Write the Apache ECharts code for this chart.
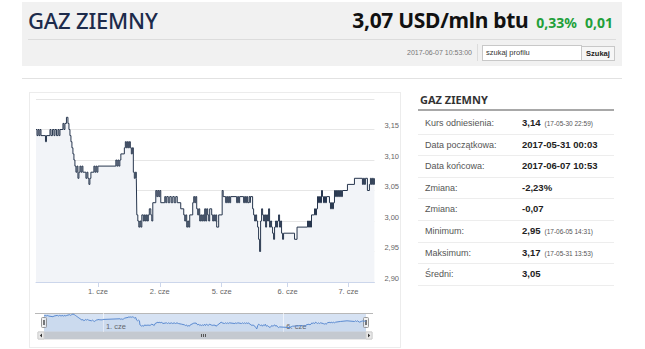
<!DOCTYPE html>
<html>
<head>
<meta charset="utf-8">
<script src="https://cdn.jsdelivr.net/npm/echarts@6/dist/echarts.min.js"></script>
<style>
  html, body { margin: 0; padding: 0; }
  body { width: 645px; height: 349px; background: #fff; position: relative; overflow: hidden;
         font-family: "Liberation Sans", Arial, sans-serif; }
  .abs { position: absolute; }
  .band { left: 22px; top: 2px; width: 600px; height: 64px; background: #f1f1f1; }
  .title { left: 28px; top: 5px; font-family: "Noto Sans", sans-serif; font-weight: 500; font-size: 22px;
           color: #1d2b4b; line-height: 30px; letter-spacing: -0.2px; }
  .quote { right: 32px; top: 5px; font-family: "Noto Sans", sans-serif; line-height: 30px; white-space: nowrap; }
  .quote .px { font-weight: 700; font-size: 21px; color: #111; letter-spacing: -0.3px; }
  .quote .chg { font-weight: 700; font-size: 14px; color: #22a03a; margin-left: 8px; }
  .sep { left: 28px; top: 39px; width: 588px; height: 1px; background: #dcdcdc; }
  .stamp { right: 173px; top: 48px; font-size: 7px; color: #777; line-height: 10px; }
  .vdiv { left: 477px; top: 44px; width: 1px; height: 17px; background: #dcdcdc; }
  .search { left: 482px; top: 45px; width: 95px; height: 14px; background: #fff; border: 1px solid #c8c8c8;
            font-size: 7.5px; color: #333; line-height: 14px; padding-left: 3px; box-sizing: content-box; }
  .btn { left: 581px; top: 46px; width: 32px; height: 13px; background: #f6f6f6; border: 1px solid #c8c8c8;
         font-size: 7.5px; font-weight: 700; color: #222; line-height: 13px; text-align: center; }
  .rule { left: 22px; top: 78px; width: 600px; height: 1px; background: #e2e2e2; }
  .panel { left: 29px; top: 92px; width: 372px; height: 256px; border: 1px solid #ececec; box-sizing: border-box; }
  #chart { left: 30px; top: 92px; width: 372px; height: 256px; }
  .thead { left: 420px; top: 93px; font-family: "Noto Sans", sans-serif; font-weight: 700; font-size: 11px; color: #333; line-height: 14px; }
  .tline { left: 418px; top: 109px; width: 196px; height: 2px; background: #a8a8a8; }
  .lab { left: 425px; font-size: 9px; color: #555; line-height: 12px; }
  .val { left: 522px; font-size: 9.5px; font-weight: 700; color: #222; line-height: 12px; white-space: nowrap; }
  .val small { font-size: 6.5px; font-weight: 400; color: #555; margin-left: 4px; }
  .rsep { left: 418px; width: 196px; height: 1px; background: #ededed; }
</style>
</head>
<body>
  <div class="abs band"></div>
  <div class="abs title">GAZ ZIEMNY</div>
  <div class="abs quote"><span class="px">3,07 USD/mln btu</span><span class="chg">0,33%</span><span class="chg">0,01</span></div>
  <div class="abs sep"></div>
  <div class="abs stamp">2017-06-07 10:53:00</div>
  <div class="abs vdiv"></div>
  <div class="abs search">szukaj profilu</div>
  <div class="abs btn">Szukaj</div>
  <div class="abs rule"></div>

  <div class="abs panel"></div>
  <div class="abs" id="chart"></div>

  <div class="abs thead">GAZ ZIEMNY</div>
  <div class="abs tline"></div>
  <div id="stats"></div>

<script>
// Position of each quote on the gap-less (ordinal) session axis, and its price.
const idx = [
  0, 1, 2, 3, 4, 5, 9.5, 10.5, 14, 15, 16.5, 18, 19, 20.5, 22, 23, 24, 27, 28, 29,
  30.5, 32, 33, 34, 35, 36, 37, 38, 39, 40, 41, 42, 43, 44, 45, 46, 47, 50, 51, 52,
  53, 54, 55, 58, 59, 60, 61, 62, 80, 81, 82, 83, 84, 85, 88.5, 89.5, 90.5, 91.5, 92.5, 93.5,
  94.5, 95.5, 96.5, 97.5, 98.5, 99.5, 100.5, 101, 102, 103, 104, 105, 106, 107.5, 108.5, 109.5, 110.5, 111.5, 112.5, 113.5,
  115, 116, 117, 120, 121, 122, 123, 124, 125, 129, 130, 131, 132.5, 134, 135.5, 137, 138.5, 140, 141.5, 145,
  148, 149, 150, 151, 152, 153, 154, 157, 158, 159, 160, 161, 162, 163, 164, 165, 166, 167, 168, 169,
  170, 171, 172, 173, 174, 176, 177, 178, 179, 180, 181, 183, 186.5, 187.5, 190, 191, 192, 193, 194, 195,
  201, 202, 203, 204, 208, 209, 210, 211, 212, 213.5, 214.5, 215, 217, 218, 219, 220, 221, 222, 223, 224,
  225, 226, 227, 228, 229, 230, 231, 232, 233, 234, 235, 236, 237, 238, 239, 240, 241, 242, 243, 244,
  245, 246, 247, 248, 259, 261.5, 272, 273, 274, 275, 276, 279, 280, 281, 282, 283, 284, 285, 286, 287,
  288, 289, 290, 291, 294, 295, 296, 297, 298, 299, 300, 301, 302, 303, 304, 305, 306, 307, 312, 319,
  327, 328, 329, 330, 332, 334, 335, 336, 337, 338, 339
];
const price = [
  3.15, 3.14, 3.15, 3.14, 3.15, 3.14, 3.13, 3.14, 3.15, 3.14, 3.15, 3.14, 3.15, 3.14, 3.15, 3.14, 3.15, 3.16, 3.15, 3.16,
  3.17, 3.16, 3.15, 3.14, 3.13, 3.12, 3.11, 3.10, 3.09, 3.08, 3.09, 3.07, 3.08, 3.09, 3.08, 3.09, 3.08, 3.07, 3.08, 3.07,
  3.06, 3.07, 3.08, 3.09, 3.08, 3.09, 3.08, 3.09, 3.10, 3.09, 3.10, 3.09, 3.10, 3.11, 3.12, 3.13, 3.12, 3.13, 3.12, 3.13,
  3.12, 3.11, 3.12, 3.08, 3.07, 3.08, 3.07, 3.01, 3.00, 2.99, 3.00, 2.99, 3.01, 3.00, 3.01, 3.00, 3.01, 3.00, 3.01, 3.02,
  3.01, 3.00, 3.03, 3.05, 3.04, 3.05, 3.04, 3.05, 3.03, 3.04, 3.03, 3.04, 3.03, 3.04, 3.03, 3.04, 3.03, 3.04, 3.03, 3.02,
  3.01, 3.00, 3.01, 2.99, 3.00, 2.99, 3.01, 3.03, 3.04, 3.03, 3.04, 3.02, 3.01, 3.02, 3.00, 3.01, 3.00, 3.01, 3.00, 3.02,
  3.00, 3.02, 3.01, 3.00, 3.02, 3.01, 3.00, 3.01, 3.00, 3.01, 2.99, 3.01, 3.05, 3.04, 3.03, 3.04, 3.03, 3.04, 3.03, 3.04,
  3.03, 3.04, 3.03, 3.04, 3.03, 3.04, 3.03, 3.04, 3.03, 3.04, 3.03, 3.04, 3.02, 3.01, 3.00, 3.01, 3.00, 2.99, 2.97, 2.95,
  3.00, 3.02, 3.01, 3.00, 3.01, 2.99, 3.01, 3.00, 3.02, 2.99, 3.00, 2.99, 2.98, 2.97, 2.99, 3.00, 2.99, 3.00, 3.01, 2.99,
  3.00, 2.98, 2.97, 2.98, 2.97, 2.99, 3.00, 2.99, 3.00, 2.99, 3.01, 3.02, 3.01, 3.02, 3.04, 3.03, 3.04, 3.03, 3.05, 3.04,
  3.03, 3.04, 3.03, 3.04, 3.03, 3.02, 3.03, 3.02, 3.03, 3.05, 3.04, 3.05, 3.04, 3.05, 3.04, 3.05, 3.04, 3.05, 3.06, 3.07,
  3.06, 3.07, 3.06, 3.07, 3.05, 3.06, 3.07, 3.06, 3.07, 3.06, 3.07
];

// Session starts on the ordinal axis and their labels.
const dayIdx = [62, 124, 186, 252, 313];
const dayLabels = ['1. cze', '2. cze', '5. cze', '6. cze', '7. cze'];
const navDayIdx = [62, 252];

// Summary table.
const statLabels = ['Kurs odniesienia:', 'Data początkowa:', 'Data końcowa:', 'Zmiana:', 'Zmiana:', 'Minimum:', 'Maksimum:', 'Średni:'];
const statValues = ['3,14', '2017-05-31 00:03', '2017-06-07 10:53', '-2,23%', '-0,07', '2,95', '3,17', '3,05'];
const statNotes = ['(17-05-30 22:59)', '', '', '', '', '(17-06-05 14:31)', '(17-05-31 13:53)', ''];

// Build the summary table rows.
const stats = document.getElementById('stats');
statLabels.forEach((lab, i) => {
  const cy = 123 + i * 21.6;
  const l = document.createElement('div');
  l.className = 'abs lab'; l.style.top = (cy - 6) + 'px'; l.textContent = lab;
  const v = document.createElement('div');
  v.className = 'abs val'; v.style.top = (cy - 6) + 'px'; v.textContent = statValues[i];
  if (statNotes[i]) { const s = document.createElement('small'); s.textContent = statNotes[i]; v.appendChild(s); }
  const r = document.createElement('div');
  r.className = 'abs rsep'; r.style.top = Math.round(cy + 10.5) + 'px';
  stats.append(l, v, r);
});

const points = idx.map((x, i) => [x, price[i]]);
const dayName = v => { const k = dayIdx.indexOf(v); return k < 0 ? '' : dayLabels[k]; };
const axisFont = { fontFamily: '"Liberation Sans", Arial, sans-serif', fontSize: 7.5, color: '#666' };

const chart = echarts.init(document.getElementById('chart'), null, { renderer: 'svg' });
chart.setOption({
  animation: false,
  grid: [
    { left: 6, top: 7, width: 339, height: 183 },
    { left: 14, top: 221, width: 322, height: 19, show: true, backgroundColor: '#d6e2f3', borderWidth: 0 }
  ],
  xAxis: [
    {
      type: 'value', gridIndex: 0, min: 0, max: 339,
      axisLine: { lineStyle: { color: '#ccd6eb' } },
      axisTick: { customValues: dayIdx, length: 5, lineStyle: { color: '#ccd6eb' } },
      axisLabel: Object.assign({ customValues: dayIdx, formatter: dayName, margin: 5 }, axisFont),
      splitLine: { show: false }
    },
    {
      type: 'value', gridIndex: 1, min: 0, max: 339,
      axisLine: { show: false },
      axisTick: { customValues: navDayIdx, inside: true, length: 19, lineStyle: { color: 'rgba(255,255,255,0.6)' } },
      axisLabel: Object.assign({ customValues: navDayIdx, formatter: dayName, inside: true, margin: 2,
        align: 'left', verticalAlign: 'bottom', padding: [0, 0, 0, 3] }, axisFont),
      splitLine: { show: false }
    }
  ],
  yAxis: [
    {
      type: 'value', gridIndex: 0, position: 'right', min: 2.9, max: 3.2, interval: 0.05,
      axisLine: { show: false }, axisTick: { show: false },
      splitLine: { lineStyle: { color: '#e6e6e6' } },
      axisLabel: Object.assign({ showMaxLabel: false, margin: 10, verticalAlign: 'bottom', lineHeight: 8,
        formatter: v => v.toFixed(2).replace('.', ',') }, axisFont)
    },
    { type: 'value', gridIndex: 1, min: 2.905, max: 3.185, show: false }
  ],
  series: [
    {
      type: 'line', xAxisIndex: 0, yAxisIndex: 0, data: points, step: 'end', showSymbol: false,
      lineStyle: { color: '#27364e', width: 1 },
      areaStyle: { color: '#f2f4f8', opacity: 1 }
    },
    {
      type: 'line', xAxisIndex: 1, yAxisIndex: 1, data: points, showSymbol: false,
      lineStyle: { color: '#5a8ad0', width: 1 },
      areaStyle: { color: 'rgba(70,110,190,0.10)' }
    }
  ],
  graphic: [
    // navigator outline
    { type: 'line', shape: { x1: 5, y1: 221.5, x2: 343, y2: 221.5 }, style: { stroke: '#b8b8b8', lineWidth: 1 } },
    // scrollbar track, thumb and grip
    { type: 'rect', shape: { x: 8, y: 240, width: 334, height: 7 }, style: { fill: '#f2f2f2', stroke: '#d6d6d6' } },
    { type: 'rect', shape: { x: 14, y: 240, width: 322, height: 7 }, style: { fill: '#c4c9d0' } },
    { type: 'line', shape: { x1: 171.5, y1: 242, x2: 171.5, y2: 245 }, style: { stroke: '#555' } },
    { type: 'line', shape: { x1: 173.5, y1: 242, x2: 173.5, y2: 245 }, style: { stroke: '#555' } },
    { type: 'line', shape: { x1: 175.5, y1: 242, x2: 175.5, y2: 245 }, style: { stroke: '#555' } },
    // scrollbar buttons
    { type: 'rect', shape: { x: 8, y: 240, width: 6, height: 7 }, style: { fill: '#e9e9e9', stroke: '#cfcfcf' } },
    { type: 'polygon', shape: { points: [[12, 241.5], [12, 245.5], [9.8, 243.5]] }, style: { fill: '#333' } },
    { type: 'rect', shape: { x: 336, y: 240, width: 6, height: 7 }, style: { fill: '#e9e9e9', stroke: '#cfcfcf' } },
    { type: 'polygon', shape: { points: [[338, 241.5], [338, 245.5], [340.2, 243.5]] }, style: { fill: '#333' } },
    // navigator handles
    { type: 'rect', shape: { x: 11.5, y: 225.5, width: 5, height: 10, r: 1 }, style: { fill: '#f2f2f2', stroke: '#999' } },
    { type: 'line', shape: { x1: 13.5, y1: 228, x2: 13.5, y2: 233 }, style: { stroke: '#777' } },
    { type: 'line', shape: { x1: 14.5, y1: 228, x2: 14.5, y2: 233 }, style: { stroke: '#777' } },
    { type: 'rect', shape: { x: 333.5, y: 225.5, width: 5, height: 10, r: 1 }, style: { fill: '#f2f2f2', stroke: '#999' } },
    { type: 'line', shape: { x1: 335.5, y1: 228, x2: 335.5, y2: 233 }, style: { stroke: '#777' } },
    { type: 'line', shape: { x1: 336.5, y1: 228, x2: 336.5, y2: 233 }, style: { stroke: '#777' } }
  ]
});
</script>
</body>
</html>
